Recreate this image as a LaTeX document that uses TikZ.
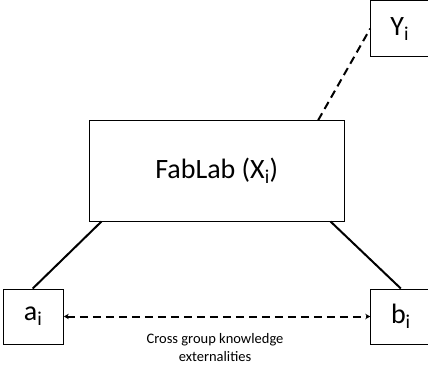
\documentclass[tikz,border=0pt]{standalone}
\usepackage{fontspec}
\setmainfont{Carlito}
\usetikzlibrary{arrows.meta,calc}
\begin{document}
\begin{tikzpicture}[x=1pt,y=1pt,
  box/.style={draw=black, line width=0.9pt, fill=white, inner sep=0pt, font=\fontsize{28}{31}\selectfont},
  conn/.style={line width=2pt},
  dconn/.style={line width=2pt, dash pattern=on 8pt off 5pt}]
\useasboundingbox (0,0) rectangle (428,365);
\clip (0,0) rectangle (428,365);
\node[box, minimum width=254.5pt, minimum height=100.3pt] (fab) at (216.75,194.15) {FabLab (X\textsubscript{i})};
\node[box, minimum width=58pt, minimum height=56pt] (y) at (399.7,336.2) {Y\textsubscript{i}};
\node[box, minimum width=60.3pt, minimum height=55pt] (a) at (33.2,48.5) {a\textsubscript{i}};
\node[box, minimum width=60.3pt, minimum height=55pt] (b) at (400.85,48.5) {b\textsubscript{i}};
\coordinate (fa) at ($(fab.south west)+(12.5,0)$);
\coordinate (fb) at ($(fab.south east)+(-14,0)$);
\coordinate (fy) at ($(fab.north east)+(-26.3,0)$);
\coordinate (ya) at ($(y.south west)+(0,28.7)$);
\draw[conn] ($(a.north)+(-0.5,0)$) coordinate (an) (an) -- (fa);
\draw[conn] (b.north) -- (fb);
\draw[dconn] (fy) -- (ya);
\draw[dconn, {Stealth[length=5pt,width=5.5pt]}-{Stealth[length=5pt,width=5.5pt]}] (a.east) -- (b.west);
\node[align=center, font=\fontsize{14.5}{17.7}\selectfont] (lbl) at (215,17.5) {Cross group knowledge\\externalities};
\end{tikzpicture}
\end{document}
